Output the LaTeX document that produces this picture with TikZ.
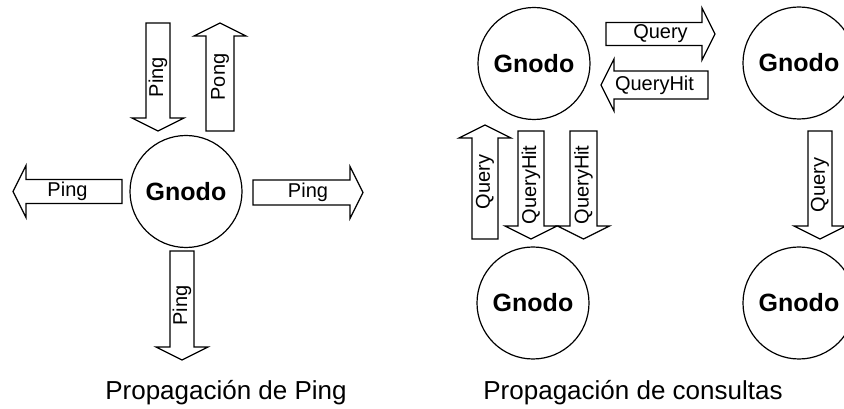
\documentclass[tikz,border=0pt]{standalone}
\usepackage{fontspec}
\setmainfont{Liberation Sans}
\begin{document}
\begin{tikzpicture}[x=1pt,y=1pt,
  line width=1.2pt,
  gnode/.style={circle, draw, minimum size=112pt, inner sep=0pt,
    font=\fontsize{25}{30}\selectfont\bfseries},
  lbl/.style={inner sep=0pt, font=\fontsize{20}{24}\selectfont},
  captxt/.style={inner sep=0pt, anchor=base, font=\fontsize{26}{31}\selectfont},
  blkarrow/.style={draw, fill=white, line join=miter}]
\useasboundingbox (0,0) rectangle (844,409);
% block arrow: #1 name, #2 x, #3 y (from top), #4 direction angle, #5 length,
% #6 shaft half width, #7 text rotation, #8 text
\newcommand{\blockarrow}[8]{%
  \begin{scope}[shift={(#2,409-#3)}, rotate=#4]
    \draw[blkarrow] ({-#5/2},{-#6}) -- ({#5/2-13},{-#6}) -- ({#5/2-13},-26)
      -- ({#5/2},0) -- ({#5/2-13},26) -- ({#5/2-13},{#6}) -- ({-#5/2},{#6}) -- cycle;
  \end{scope}
  \node[lbl, rotate=#7] (#1) at (#2,409-#3) {#8};}

% ---- Left diagram: Ping propagation
\node[gnode] (c) at (186,409-191.5) {Gnodo};
\blockarrow{pingin}{158}{77}{-90}{108}{12}{90}{Ping}
\blockarrow{pong}{220}{77}{90}{108}{14}{90}{Pong}
\blockarrow{pingl}{67.5}{191.5}{180}{109}{12}{0}{Ping}
\blockarrow{pingr}{308}{192.5}{0}{110}{12.5}{0}{Ping}
\blockarrow{pingd}{182}{305.5}{-90}{109}{12}{90}{Ping}
\node[captxt] (capA) at (226,9) {Propagación de Ping};

% ---- Right diagram: query propagation
\node[gnode] (tl) at (534,409-63.5) {Gnodo};
\node[gnode] (tr) at (799,409-63) {Gnodo};
\node[gnode] (bl) at (533,409-303) {Gnodo};
\node[gnode] (br) at (799,409-303) {Gnodo};
\blockarrow{q1}{660.5}{34}{0}{109}{11.5}{0}{Query}
\blockarrow{qh1}{654.5}{85}{180}{107}{14}{0}{QueryHit}
\blockarrow{q2}{485}{182}{90}{114}{13}{90}{Query}
\blockarrow{qh2}{531}{185}{-90}{108}{13}{90}{QueryHit}
\blockarrow{qh3}{583.5}{185}{-90}{108}{13.5}{90}{QueryHit}
\blockarrow{q3}{820}{185}{-90}{108}{12}{90}{Query}
\node[captxt] (capB) at (633,9) {Propagación de consultas};
\end{tikzpicture}
\end{document}
